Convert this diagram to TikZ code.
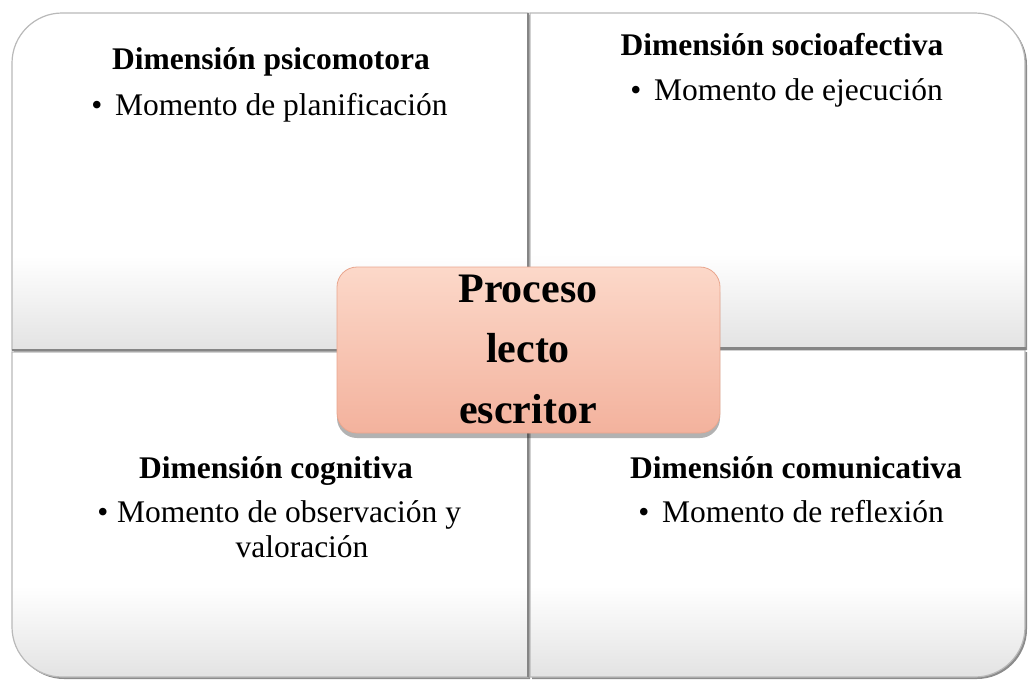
\documentclass[tikz,border=0pt]{standalone}
\usepackage{fontspec}
\setmainfont{Liberation Serif}
\usetikzlibrary{shadows}
\definecolor{boxtop}{HTML}{FCD8C9}
\definecolor{boxbot}{HTML}{F3B29D}
\definecolor{boxedge}{HTML}{E9A68E}
\pgfdeclareverticalshading{quadshade}{100bp}{color(0bp)=(black!11); color(25bp)=(black!11); color(39bp)=(white); color(100bp)=(white)}
\tikzset{
  quad/.style={shading=quadshade, draw=gray!55, line width=1.2pt,
    drop shadow={shadow xshift=2pt, shadow yshift=-2pt, fill=black!45, opacity=1}},
  divider/.style={draw=black!48, line width=2.6pt},
  ttl/.style={anchor=base, inner sep=0pt, font=\fontsize{31.5}{36}\selectfont\bfseries},
  itm/.style={anchor=base west, inner sep=0pt, font=\fontsize{31.5}{36}\selectfont},
  bul/.style={anchor=base, inner sep=0pt, font=\fontsize{31.5}{36}\selectfont},
  ctr/.style={anchor=base, inner sep=0pt, font=\fontsize{42}{60}\selectfont\bfseries},
  centerbox/.style={top color=boxtop, bottom color=boxbot, draw=boxedge, line width=0.8pt,
    rounded corners=20pt,
    drop shadow={shadow xshift=0pt, shadow yshift=-5pt, fill=black, opacity=0.3}}
}
\begin{document}
\begin{tikzpicture}[x=1pt,y=-1pt]
\useasboundingbox (0,0) rectangle (1036,686);
% quadrants
\path[quad] (12,350) -- (12,63) .. controls (12,35.4) and (34.6,13) .. (62,13) -- (528,13) -- (528,350) -- cycle;
\path[quad] (530,13) -- (975,13) .. controls (1002.4,13) and (1025,35.4) .. (1025,63) -- (1025,348) -- (530,348) -- cycle;
\path[quad] (12,352) -- (528,352) -- (528,677) -- (62,677) .. controls (34.6,677) and (12,654.6) .. (12,627) -- cycle;
\path[quad] (530,350) -- (1025,350) -- (1025,627) .. controls (1025,654.6) and (1002.4,677) .. (975,677) -- (530,677) -- cycle;
% inner shadow edges
\path[divider] (528,13) -- (528,677);
\path[divider] (12,350) -- (528,350);
\path[divider] (530,348.5) -- (1026,348.5);
% top-left
\node[ttl] (t1) at (271,69) {Dimensión psicomotora};
\node[bul] (b1) at (97,115) {\textbullet};
\node[itm] (i1) at (115,115) {Momento de planificación};
% top-right
\node[ttl] (t2) at (782,55) {Dimensión socioafectiva};
\node[bul] (b2) at (636,100) {\textbullet};
\node[itm] (i2) at (654,100) {Momento de ejecución};
% bottom-left
\node[ttl] (t3) at (276,478) {Dimensión cognitiva};
\node[bul] (b3) at (103,522) {\textbullet};
\node[itm] (i3) at (117,522) {Momento de observación y};
\node[bul] (i3b) at (302,557) {valoración};
% bottom-right
\node[ttl] (t4) at (796,478) {Dimensión comunicativa};
\node[bul] (b4) at (644,522) {\textbullet};
\node[itm] (i4) at (662,522) {Momento de reflexión};
% center
\path[centerbox] (337,267) rectangle (720,433);
\node[ctr] (c1) at (528,302) {Proceso};
\node[ctr] (c2) at (528,362) {lecto};
\node[ctr] (c3) at (528,423) {escritor};
\end{tikzpicture}
\end{document}
